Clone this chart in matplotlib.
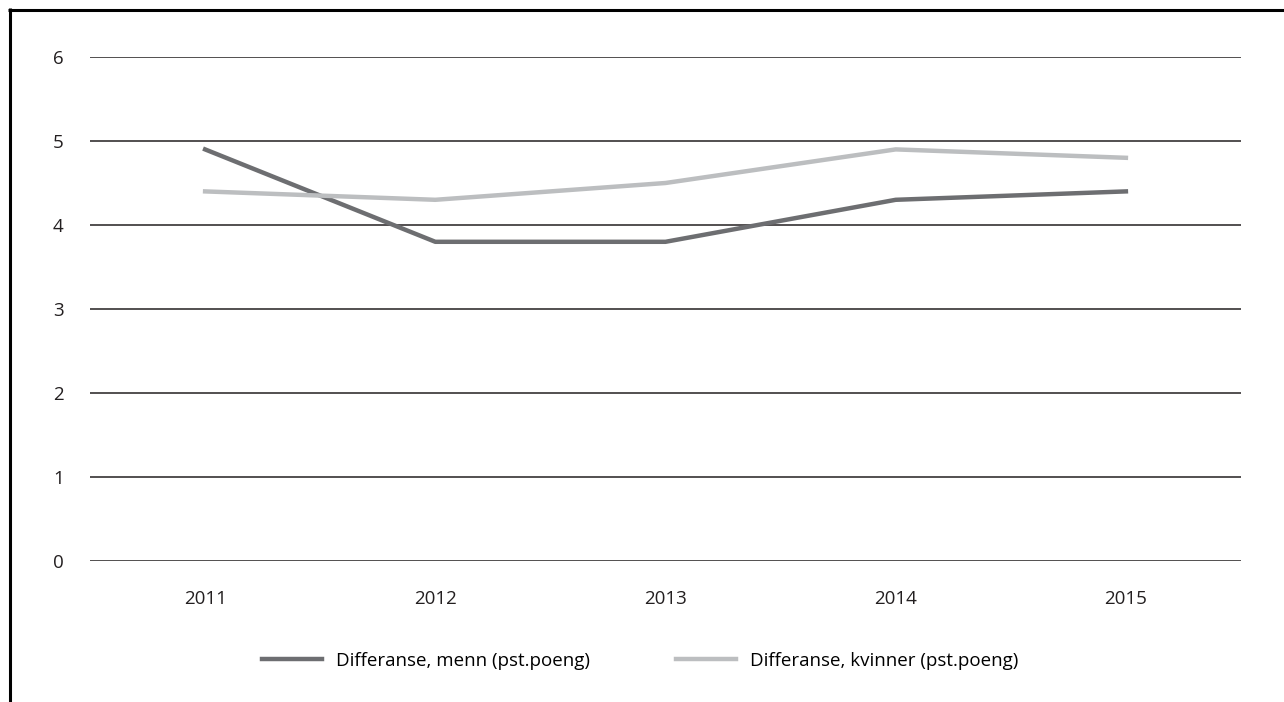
import matplotlib.pyplot as plt
from matplotlib.lines import Line2D

plt.rcParams['font.family'] = ['Open Sans', 'DejaVu Sans']

years = ['2011', '2012', '2013', '2014', '2015']
menn = [4.9, 3.8, 3.8, 4.3, 4.4]
kvinner = [4.4, 4.3, 4.5, 4.9, 4.8]

W, H = 1284, 702
fig = plt.figure(figsize=(W / 100, H / 100), dpi=100)
ax = fig.add_axes([90 / W, (H - 561) / H, (1241 - 90) / W, (561 - 57) / H])

x = list(range(len(years)))
ax.plot(x, menn, color='#6d6e71', lw=3.2, label='Differanse, menn (pst.poeng)', zorder=3)
ax.plot(x, kvinner, color='#bcbec0', lw=3.2, label='Differanse, kvinner (pst.poeng)', zorder=3)

ax.set_xlim(-0.5, len(years) - 0.5)
ax.set_ylim(0, 6)
ax.set_xticks(x)
ax.set_xticklabels(years)
ax.set_yticks(range(0, 7))
ax.yaxis.grid(True, color='#231f20', lw=1.1)
ax.set_axisbelow(True)
for s in ax.spines.values():
    s.set_visible(False)
ax.tick_params(axis='both', length=0, labelsize=13.5, colors='#231f20')
ax.tick_params(axis='y', pad=19)
ax.tick_params(axis='x', pad=21)

fig.legend(loc='center', bbox_to_anchor=(640 / W, (H - 661) / H), ncol=2, frameon=False,
           fontsize=13.5, handlelength=3.2, handletextpad=0.75, columnspacing=4.6)

# frame lines at top and left
fig.add_artist(Line2D([8 / W, 1], [1 - 9.5 / H, 1 - 9.5 / H], color='black', lw=2.2,
                      solid_capstyle='butt', transform=fig.transFigure))
fig.add_artist(Line2D([9.5 / W, 9.5 / W], [0, 1 - 8 / H], color='black', lw=2.2,
                      solid_capstyle='butt', transform=fig.transFigure))

fig.savefig('out.png', dpi=100)
